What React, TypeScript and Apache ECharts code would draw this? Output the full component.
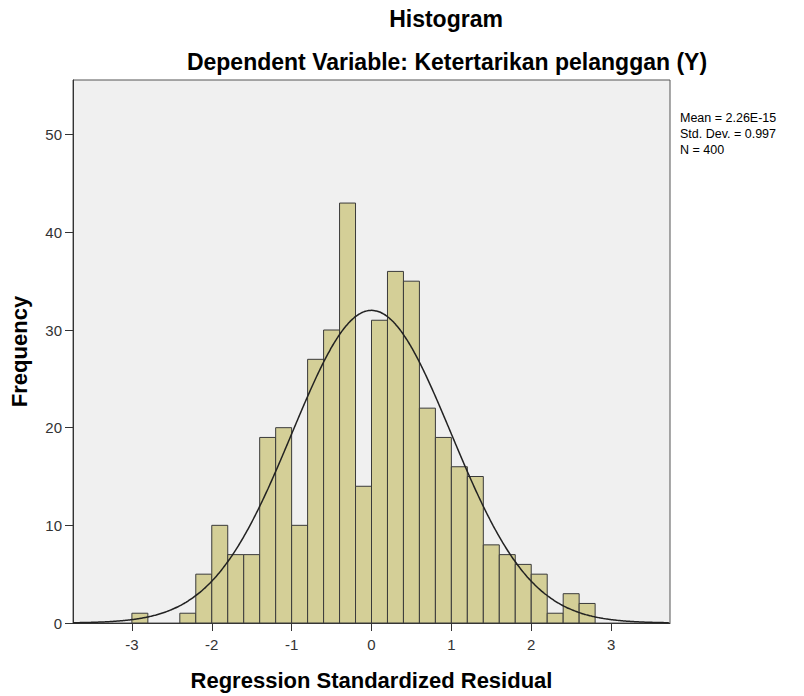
import React, { useEffect, useRef } from "react";
import * as echarts from "echarts";

const binStarts = [-3.0, -2.4, -2.2, -2.0, -1.8, -1.6, -1.4, -1.2, -1.0, -0.8, -0.6, -0.4, -0.2, 0.0, 0.2, 0.4, 0.6, 0.8, 1.0, 1.2, 1.4, 1.6, 1.8, 2.0, 2.2, 2.4, 2.6];
const counts = [1, 1, 5, 10, 7, 7, 19, 20, 10, 27, 30, 43, 14, 31, 36, 35, 22, 19, 16, 15, 8, 7, 6, 5, 1, 3, 2];
const binWidth = 0.2;
const xTicks = [-3, -2, -1, 0, 1, 2, 3];
const yTicks = [0, 10, 20, 30, 40, 50];
const statMean = 2.26e-15;
const statSd = 0.997;
const statN = 400;
const statLines = ["Mean = 2.26E-15", "Std. Dev. = 0.997", "N = 400"];

const X_MIN = -3.7375;
const X_MAX = 3.7375;
const Y_MAX = 55.6;

export default function App() {
  const ref = useRef<HTMLDivElement>(null);
  useEffect(() => {
    if (!ref.current) return;
    const chart = echarts.init(ref.current, null, { renderer: "svg" });
    const barData = binStarts.map((s, i) => [s, +(s + binWidth).toFixed(2), counts[i]]);
    const curve: number[][] = [];
    const peak = (statN * binWidth) / (statSd * Math.sqrt(2 * Math.PI));
    for (let x = X_MIN; x <= X_MAX + 1e-9; x += 0.02) {
      const z = (x - statMean) / statSd;
      curve.push([x, peak * Math.exp(-0.5 * z * z)]);
    }
    const font = "'Liberation Sans', Arial, sans-serif";
    chart.setOption({
      animation: false,
      backgroundColor: "#ffffff",
      textStyle: { fontFamily: font },
      title: [
        {
          text: "Histogram",
          left: 441,
          top: 2,
          textAlign: "center",
          textStyle: { fontSize: 23, fontWeight: "bold", color: "#000", fontFamily: font },
        },
        {
          text: "Dependent Variable: Ketertarikan pelanggan (Y)",
          left: 442,
          top: 45,
          textAlign: "center",
          textStyle: { fontSize: 23, fontWeight: "bold", color: "#000", fontFamily: font },
        },
      ],
      grid: {
        left: 72,
        top: 80,
        width: 598,
        height: 547,
        show: true,
        backgroundColor: "#f0f0f0",
        borderColor: "#555",
        borderWidth: 1,
      },
      xAxis: {
        type: "value",
        min: X_MIN,
        max: X_MAX,
        name: "Regression Standardized Residual",
        nameLocation: "middle",
        nameGap: 46,
        nameTextStyle: { fontSize: 22, fontWeight: "bold", color: "#000", fontFamily: font },
        axisLine: { show: true, onZero: false, lineStyle: { color: "#333", width: 1 } },
        axisTick: { show: true, length: 8, customValues: xTicks, lineStyle: { color: "#333" } },
        axisLabel: { customValues: xTicks, color: "#333", fontSize: 15, margin: 14, fontFamily: font },
        splitLine: { show: false },
      },
      yAxis: {
        type: "value",
        min: 0,
        max: Y_MAX,
        name: "Frequency",
        nameLocation: "middle",
        nameGap: 43,
        nameRotate: 90,
        nameTextStyle: { fontSize: 22, fontWeight: "bold", color: "#000", fontFamily: font },
        axisLine: { show: true, onZero: false, lineStyle: { color: "#333", width: 1 } },
        axisTick: { show: true, length: 8, customValues: yTicks, lineStyle: { color: "#333" } },
        axisLabel: { customValues: yTicks, color: "#333", fontSize: 15, margin: 11, fontFamily: font },
        splitLine: { show: false },
      },
      series: [
        {
          type: "custom",
          data: barData,
          encode: { x: [0, 1], y: 2 },
          renderItem: (params: any, api: any) => {
            const lo = api.value(0);
            const hi = api.value(1);
            const v = api.value(2);
            const p0 = api.coord([lo, v]);
            const p1 = api.coord([hi, 0]);
            return {
              type: "rect",
              shape: { x: p0[0], y: p0[1], width: p1[0] - p0[0], height: p1[1] - p0[1] },
              style: { fill: "#d4cf97", stroke: "#3a3a3a", lineWidth: 1 },
            };
          },
          z: 2,
        },
        {
          type: "line",
          data: curve,
          showSymbol: false,
          symbol: "none",
          smooth: true,
          lineStyle: { color: "#222", width: 1.5 },
          z: 3,
        },
      ],
      graphic: [
        {
          type: "text",
          left: 680,
          top: 110,
          style: {
            text: statLines.join("\n"),
            fontSize: 12.5,
            lineHeight: 16,
            fill: "#000",
            fontFamily: font,
          },
        },
      ],
    });
    return () => chart.dispose();
  }, []);
  return (
    <div
      ref={ref}
      style={{ position: "absolute", left: 0, top: 0, width: 804, height: 696 }}
    />
  );
}
